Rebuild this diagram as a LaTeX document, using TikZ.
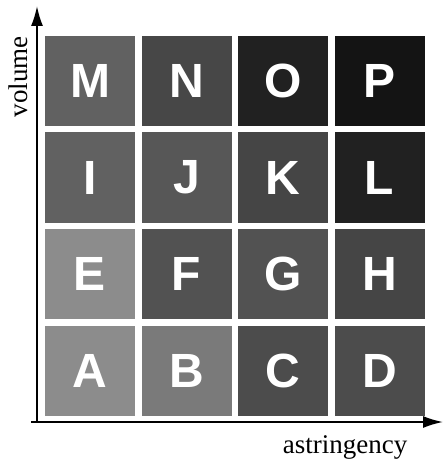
\documentclass[tikz,border=0pt]{standalone}
\usepackage{fontspec}
\setmainfont{Liberation Serif}
\newfontfamily\cellfont{Liberation Sans}
\usepackage{tikz}
\usetikzlibrary{arrows.meta}
\tikzset{
  cell/.style={minimum size=90pt,inner sep=0pt,text=white,
               font=\cellfont\bfseries\fontsize{48}{48}\selectfont},
  axis/.style={line width=1.8pt,-{Latex[length=20pt,width=12pt]}},
  axlbl/.style={font=\fontsize{27}{27}\selectfont,inner sep=0pt}
}

\begin{document}
\begin{tikzpicture}[x=1pt,y=-1pt]
  \useasboundingbox (0,0) rectangle (443,462);
  % bottom row
  \node[cell,fill=black!45] (sqA) at (90,370.5) {A};
  \node[cell,fill=black!52] (sqB) at (186.5,370.5) {B};
  \node[cell,fill=black!70] (sqC) at (283,370.5) {C};
  \node[cell,fill=black!70] (sqD) at (379.5,370.5) {D};
  % second row
  \node[cell,fill=black!45] (sqE) at (90,274) {E};
  \node[cell,fill=black!68] (sqF) at (186.5,274) {F};
  \node[cell,fill=black!68] (sqG) at (283,274) {G};
  \node[cell,fill=black!73] (sqH) at (379.5,274) {H};
  % third row
  \node[cell,fill=black!62] (sqI) at (90,177.5) {I};
  \node[cell,fill=black!66] (sqJ) at (186.5,177.5) {J};
  \node[cell,fill=black!73] (sqK) at (283,177.5) {K};
  \node[cell,fill=black!87] (sqL) at (379.5,177.5) {L};
  % top row
  \node[cell,fill=black!62] (sqM) at (90,81) {M};
  \node[cell,fill=black!72] (sqN) at (186.5,81) {N};
  \node[cell,fill=black!87] (sqO) at (283,81) {O};
  \node[cell,fill=black!92] (sqP) at (379.5,81) {P};
  % axes
  \coordinate (orig) at (37,422);
  \coordinate (ytip) at (37,6);
  \coordinate (xtip) at (443,422);
  \coordinate (xstart) at (31,422);
  \draw[axis] (orig) -- (ytip);
  \draw[axis] (xstart) -- (xtip);
  \node[axlbl,rotate=90,anchor=base] (vol) at (27,77) {volume};
  \node[axlbl,anchor=base] (astr) at (345,453) {astringency};
\end{tikzpicture}
\end{document}
